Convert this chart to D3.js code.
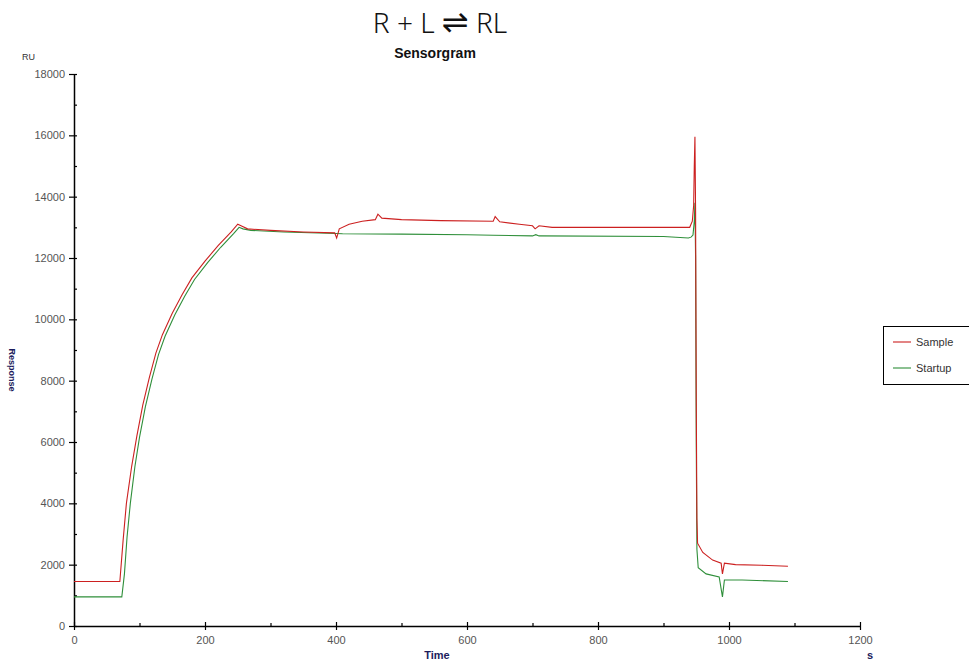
<!DOCTYPE html>
<html>
<head>
<meta charset="utf-8">
<script src="https://cdn.jsdelivr.net/npm/d3@7"></script>
<style>
  body { margin: 0; background: #fff; overflow: hidden; }
  svg { display: block; }
  .tick text { font-family: "Liberation Sans", Arial, sans-serif; font-size: 11px; fill: #555; }
</style>
</head>
<body>
<svg id="chart" width="969" height="662"></svg>
<script>
// Sensorgram data: [time s, response RU]
const sample = [
  [0,1450],[70,1450],[75,2800],[80,4000],[88,5200],[96,6200],[105,7200],[115,8100],
  [125,8900],[135,9500],[150,10200],[165,10800],[180,11350],[200,11900],[220,12400],
  [240,12850],[250,13100],[255,13050],[265,12950],[300,12900],[350,12850],[398,12820],
  [401,12650],[405,12950],[420,13100],[440,13200],[460,13250],[464,13430],[470,13300],
  [500,13250],[560,13220],[640,13200],[643,13350],[650,13180],[680,13100],[700,13050],
  [704,12950],[710,13050],[730,13000],[940,13000],[944,13200],[946,13700],[947,15000],
  [948,15950],[949,13500],[950,7400],[951,3500],[952,2700],[960,2400],[975,2150],
  [988,2050],[990,1700],[993,2050],[1010,2000],[1050,1980],[1090,1950]
];
const startup = [
  [0,950],[73,950],[77,1700],[81,2900],[86,4000],[93,5200],[100,6150],[109,7150],
  [119,8050],[129,8850],[139,9450],[154,10150],[169,10750],[184,11300],[204,11850],
  [224,12350],[244,12800],[252,13000],[258,12950],[270,12900],[320,12850],[400,12800],
  [410,12790],[500,12780],[600,12760],[640,12740],[700,12720],[705,12760],[710,12720],
  [900,12700],[938,12650],[942,12680],[945,12750],[947,13200],[948,13800],[949,12000],
  [950,6000],[951,2500],[953,1900],[965,1700],[985,1600],[990,950],[993,1500],
  [1020,1500],[1090,1450]
];
const seriesNames = ["Sample", "Startup"];
const seriesColors = ["#cc2020", "#2f8f3a"];
const xTicks = [0, 200, 400, 600, 800, 1000, 1200];
const yTicks = [0, 2000, 4000, 6000, 8000, 10000, 12000, 14000, 16000, 18000];

const svg = d3.select("#chart");
const x = d3.scaleLinear().domain([0, 1200]).range([74, 860]);
const y = d3.scaleLinear().domain([0, 18000]).range([626, 74]);
const fmt = d3.format("d");

// titles
const title = svg.append("text").attr("x", 440).attr("y", 33).attr("text-anchor", "middle")
  .style("font-family", "'Noto Sans', sans-serif").style("font-weight", 300)
  .style("font-size", "28px").attr("fill", "#111");
title.append("tspan").text("R + L ");
title.append("tspan").style("font-family", "'DejaVu Sans', sans-serif").style("font-size", "32px")
  .style("font-weight", "normal").text("\u21CC");
title.append("tspan").text(" RL");
svg.append("text").attr("x", 435).attr("y", 58).attr("text-anchor", "middle")
  .style("font-family", "'Liberation Sans', Arial, sans-serif").style("font-weight", "bold")
  .style("font-size", "14px").attr("fill", "#111").text("Sensorgram");

// minor ticks first
svg.append("g").attr("transform", "translate(74,0)")
  .call(d3.axisLeft(y).tickValues(d3.range(1000, 18000, 2000)).tickSize(-3).tickFormat(""))
  .call(g => g.select(".domain").remove());
svg.append("g").attr("transform", "translate(0,626)")
  .call(d3.axisBottom(x).tickValues(d3.range(100, 1200, 200)).tickSize(-3).tickFormat(""))
  .call(g => g.select(".domain").remove());

// axes
const yAxis = svg.append("g").attr("transform", "translate(74,0)")
  .call(d3.axisLeft(y).tickValues(yTicks).tickFormat(fmt).tickSize(5).tickSizeOuter(0).tickPadding(4));
yAxis.selectAll(".tick line").attr("x2", -5).attr("x1", 3);
const xAxis = svg.append("g").attr("transform", "translate(0,626)")
  .call(d3.axisBottom(x).tickValues(xTicks).tickFormat(fmt).tickSize(5).tickSizeOuter(0).tickPadding(5));
xAxis.selectAll(".tick line").attr("y1", -4).attr("y2", 4);
svg.selectAll(".domain").attr("stroke", "#000").attr("stroke-width", 1.5);
svg.selectAll(".tick line").attr("stroke", "#000").attr("stroke-width", 1.2);

// axis labels
svg.append("text").attr("x", 22).attr("y", 60)
  .style("font-family", "'Liberation Sans', Arial, sans-serif").style("font-size", "9px")
  .attr("fill", "#333").text("RU");
svg.append("text").attr("transform", "translate(9,370) rotate(90)").attr("text-anchor", "middle")
  .style("font-family", "'Liberation Sans', Arial, sans-serif").style("font-weight", "bold")
  .style("font-size", "9px").attr("fill", "#1c1c5c").text("Response");
svg.append("text").attr("x", 437).attr("y", 659).attr("text-anchor", "middle")
  .style("font-family", "'Liberation Sans', Arial, sans-serif").style("font-weight", "bold")
  .style("font-size", "11px").attr("fill", "#1c1c5c").text("Time");
svg.append("text").attr("x", 870).attr("y", 659).attr("text-anchor", "middle")
  .style("font-family", "'Liberation Sans', Arial, sans-serif").style("font-weight", "bold")
  .style("font-size", "11px").attr("fill", "#1c1c5c").text("s");

// lines
const line = d3.line().x(d => x(d[0])).y(d => y(d[1]));
[startup, sample].forEach((data, i) => {
  svg.append("path").datum(data).attr("fill", "none")
    .attr("stroke", seriesColors[1 - i]).attr("stroke-width", 1.1)
    .attr("d", line);
});

// legend
const legend = svg.append("g").attr("transform", "translate(883,326)");
legend.append("rect").attr("x", 0.5).attr("y", 0.5).attr("width", 100).attr("height", 58)
  .attr("fill", "#fff").attr("stroke", "#000");
seriesNames.forEach((name, i) => {
  const yy = 16 + i * 26;
  legend.append("line").attr("x1", 10).attr("x2", 28).attr("y1", yy).attr("y2", yy)
    .attr("stroke", seriesColors[i]).attr("stroke-width", 1.1);
  legend.append("text").attr("x", 33).attr("y", yy + 4)
    .style("font-family", "'Liberation Sans', Arial, sans-serif").style("font-size", "11px")
    .attr("fill", "#333").text(name);
});
</script>
</body>
</html>
